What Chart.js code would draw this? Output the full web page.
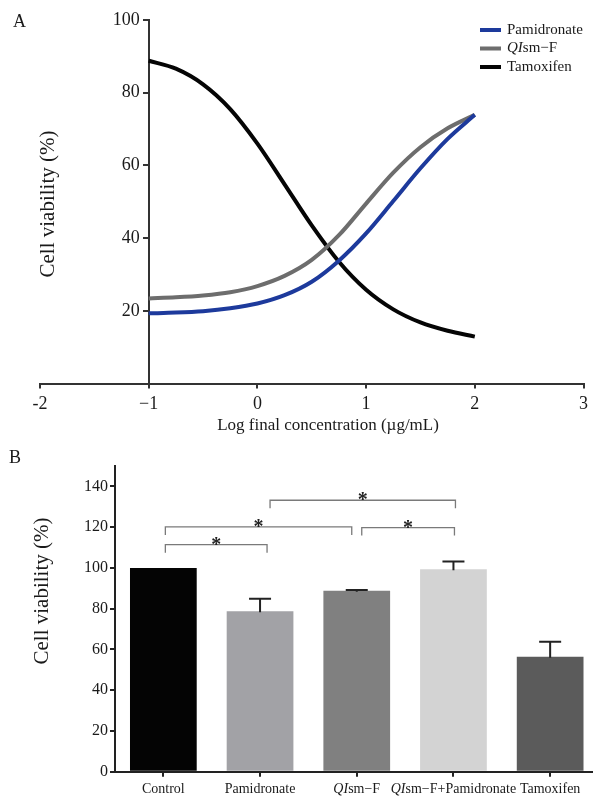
<!DOCTYPE html>
<html><head><meta charset="utf-8">
<script src="https://cdn.jsdelivr.net/npm/chart.js@4"></script>
<style>
html,body{margin:0;padding:0;background:#fff;overflow:hidden;width:593px;height:796px;}
#wrapA{position:absolute;left:0;top:0;width:593px;height:445px;}
#wrapB{position:absolute;left:0;top:445px;width:605px;height:351px;}
</style></head><body>
<div id="wrapA"><canvas id="a"></canvas></div>
<div id="wrapB"><canvas id="b"></canvas></div>
<script>
// ---------- Panel A data ----------
const logConc      = [-1, -0.75, -0.5, -0.25, 0, 0.25, 0.5, 0.75, 1, 1.25, 1.5, 1.75, 2];
const pamidronateA = [19.3, 19.5, 19.9, 20.7, 22.0, 24.3, 28.0, 33.8, 41.3, 50.2, 59.2, 67.3, 73.9];
const qismfA       = [23.4, 23.7, 24.2, 25.1, 26.8, 29.6, 34.0, 40.8, 49.5, 58.0, 65.0, 70.2, 73.9];
const tamoxifenA   = [88.8, 86.6, 82.3, 75.5, 66.0, 54.8, 43.5, 33.5, 25.8, 20.4, 16.8, 14.5, 12.9];
const seriesNamesA = ['Pamidronate', 'QIsm\u2212F', 'Tamoxifen'];
const xTicksA      = [-2, -1, 0, 1, 2, 3];
const xTickLabelsA = ['-2', '\u22121', '0', '1', '2', '3'];
const yTicksA      = [20, 40, 60, 80, 100];

// ---------- Panel B data ----------
const groupsB     = ['Control', 'Pamidronate', 'QIsm\u2212F', 'QIsm\u2212F+Pamidronate', 'Tamoxifen'];
const viabilityB  = [100, 78.7, 88.8, 99.3, 56.4];
const errorB      = [0, 6.2, 0.4, 3.8, 7.4];
const yTicksB     = [0, 20, 40, 60, 80, 100, 120, 140];
const bracketPairsB  = [[0, 1], [0, 2], [2, 3], [1, 3]];
const bracketLevelsB = [111.4, 120.1, 119.8, 133.2];
const bracketMarksB  = ['*', '*', '*', '*'];

// ---------- styles ----------
const SERIF = '"Liberation Serif", "Times New Roman", "DejaVu Serif", serif';
const lineColorsA = ['#1d3a9c', '#6d6d6d', '#050505'];
const barColorsB = ['#040404', '#a2a2a6', '#808080', '#d3d3d3', '#5b5b5b'];
// pixel insets of bracket ends from category centres (style only)
const bracketInsetB = [[2, 7], [2, -5], [5, 1], [10, 2]];

function richParts(label) {
  return label.startsWith('QI') ? [{t: 'QI', it: true}, {t: label.slice(2), it: false}] : [{t: label, it: false}];
}
function drawRich(ctx, label, x, y, size, align) {
  const parts = richParts(label);
  const widths = parts.map(p => { ctx.font = (p.it ? 'italic ' : '') + size + 'px ' + SERIF; return ctx.measureText(p.t).width; });
  const total = widths.reduce((a, b) => a + b, 0);
  let cx = align === 'center' ? x - total / 2 : x;
  ctx.textAlign = 'left';
  parts.forEach((p, i) => {
    ctx.font = (p.it ? 'italic ' : '') + size + 'px ' + SERIF;
    ctx.fillText(p.t, cx, y);
    cx += widths[i];
  });
}

// ---------- Chart A ----------
const decorA = {
  id: 'decorA',
  afterDraw(chart) {
    const ctx = chart.ctx;
    ctx.save();
    ctx.fillStyle = '#1a1a1a';
    ctx.textBaseline = 'alphabetic';
    ctx.font = '18px ' + SERIF;
    ctx.textAlign = 'left';
    ctx.fillText('A', 13, 27);
    // x title
    ctx.textBaseline = 'middle';
    ctx.textAlign = 'center';
    ctx.font = '17px ' + SERIF;
    ctx.fillText('Log final concentration (\u00b5g/mL)', 328, 426);
    // y title
    ctx.save();
    ctx.translate(48, 204);
    ctx.rotate(-Math.PI / 2);
    ctx.font = '21px ' + SERIF;
    ctx.fillText('Cell viability (%)', 0, 0);
    ctx.restore();
    // legend
    chart.data.datasets.forEach((ds, i) => {
      const y = 30 + i * 18.5;
      ctx.fillStyle = ds.borderColor;
      ctx.fillRect(480, y - 2, 21, 4);
      ctx.fillStyle = '#1a1a1a';
      ctx.textBaseline = 'middle';
      drawRich(ctx, ds.label, 507, y, 15, 'left');
    });
    ctx.restore();
  }
};

new Chart(document.getElementById('a'), {
  type: 'line',
  data: {
    datasets: [pamidronateA, qismfA, tamoxifenA].map((arr, k) => ({
      label: seriesNamesA[k],
      data: logConc.map((x, i) => ({x: x, y: arr[i]})),
      borderColor: lineColorsA[k],
      backgroundColor: lineColorsA[k],
      borderWidth: 4,
      pointRadius: 0,
      fill: false,
      cubicInterpolationMode: 'monotone'
    }))
  },
  options: {
    responsive: true, maintainAspectRatio: false, animation: false,
    layout: {padding: {left: 40, right: 7, top: 20, bottom: 0}},
    plugins: {legend: {display: false}, tooltip: {enabled: false}},
    scales: {
      x: {
        type: 'linear', min: -2, max: 3, position: 'bottom',
        afterBuildTicks: s => { s.ticks = xTicksA.map(v => ({value: v})); },
        ticks: {font: {family: SERIF, size: 18}, color: '#1a1a1a', padding: 5,
                callback: (v, i) => xTickLabelsA[i]},
        grid: {drawOnChartArea: false, drawTicks: true, tickLength: 5, color: '#333', lineWidth: 2},
        border: {display: true, color: '#333', width: 2},
        afterFit: s => { s.height = 61.5; }
      },
      y: {
        type: 'linear', min: 0, max: 100, position: {x: -1},
        afterBuildTicks: s => { s.ticks = yTicksA.map(v => ({value: v})); },
        // trailing spaces keep the right-aligned labels clear of the tick marks
        ticks: {font: {family: SERIF, size: 18}, color: '#1a1a1a', padding: 3,
                callback: v => String(v) + '  '},
        grid: {drawOnChartArea: false, drawTicks: true, tickLength: 5, color: '#333', lineWidth: 2},
        border: {display: true, color: '#333', width: 2}
      }
    }
  },
  plugins: [decorA]
});

// ---------- Chart B ----------
const decorB = {
  id: 'decorB',
  afterDatasetsDraw(chart) {
    const ctx = chart.ctx;
    const ys = chart.scales.y, xs = chart.scales.x;
    const meta = chart.getDatasetMeta(0);
    ctx.save();
    // error bars
    ctx.strokeStyle = '#222';
    ctx.lineWidth = 2;
    meta.data.forEach((bar, i) => {
      if (!(errorB[i] > 0)) return;
      const yTop = ys.getPixelForValue(viabilityB[i] + errorB[i]);
      const yBar = ys.getPixelForValue(viabilityB[i]);
      ctx.beginPath();
      ctx.moveTo(bar.x, yBar + 1);
      ctx.lineTo(bar.x, yTop);
      ctx.moveTo(bar.x - 11, yTop);
      ctx.lineTo(bar.x + 11, yTop);
      ctx.stroke();
    });
    // significance brackets
    ctx.strokeStyle = '#7a7a7a';
    ctx.lineWidth = 1.3;
    bracketPairsB.forEach((pair, k) => {
      const x1 = xs.getPixelForValue(pair[0]) + bracketInsetB[k][0];
      const x2 = xs.getPixelForValue(pair[1]) + bracketInsetB[k][1];
      const y = ys.getPixelForValue(bracketLevelsB[k]);
      ctx.beginPath();
      ctx.moveTo(x1, y + 8);
      ctx.lineTo(x1, y);
      ctx.lineTo(x2, y);
      ctx.lineTo(x2, y + 8);
      ctx.stroke();
      ctx.fillStyle = '#222';
      ctx.font = 'bold 20px ' + SERIF;
      ctx.textAlign = 'center';
      ctx.textBaseline = 'alphabetic';
      ctx.fillText(bracketMarksB[k], (x1 + x2) / 2, y + 6);
    });
    ctx.restore();
  },
  afterDraw(chart) {
    const ctx = chart.ctx;
    const xs = chart.scales.x;
    ctx.save();
    ctx.fillStyle = '#1a1a1a';
    ctx.textBaseline = 'alphabetic';
    ctx.textAlign = 'left';
    ctx.font = '18px ' + SERIF;
    ctx.fillText('B', 9, 18);
    // x labels
    groupsB.forEach((g, i) => {
      drawRich(ctx, g, xs.getPixelForValue(i), 348, 14, 'center');
    });
    // y title
    ctx.save();
    ctx.translate(42, 146);
    ctx.rotate(-Math.PI / 2);
    ctx.textAlign = 'center';
    ctx.textBaseline = 'middle';
    ctx.font = '21px ' + SERIF;
    ctx.fillText('Cell viability (%)', 0, 0);
    ctx.restore();
    ctx.restore();
  }
};

new Chart(document.getElementById('b'), {
  type: 'bar',
  data: {
    labels: groupsB,
    datasets: [{
      data: viabilityB,
      backgroundColor: barColorsB,
      borderWidth: 0,
      barPercentage: 0.69,
      categoryPercentage: 1
    }]
  },
  options: {
    responsive: true, maintainAspectRatio: false, animation: false,
    layout: {padding: {left: 0, right: 6.5, top: 21, bottom: 0}},
    plugins: {legend: {display: false}, tooltip: {enabled: false}},
    scales: {
      x: {
        ticks: {display: false},
        grid: {offset: false, drawOnChartArea: false, drawTicks: true, tickLength: 5, color: '#222', lineWidth: 2},
        border: {display: true, color: '#222', width: 2},
        afterFit: s => { s.height = 24.2; }
      },
      y: {
        min: 0, max: 150,
        afterBuildTicks: s => { s.ticks = yTicksB.map(v => ({value: v})); },
        ticks: {font: {family: SERIF, size: 16}, color: '#1a1a1a', padding: 2},
        grid: {drawOnChartArea: false, drawTicks: true, tickLength: 5, color: '#222', lineWidth: 2},
        border: {display: true, color: '#222', width: 2},
        afterFit: s => { s.width = 115; }
      }
    }
  },
  plugins: [decorB]
});
</script>
</body></html>
